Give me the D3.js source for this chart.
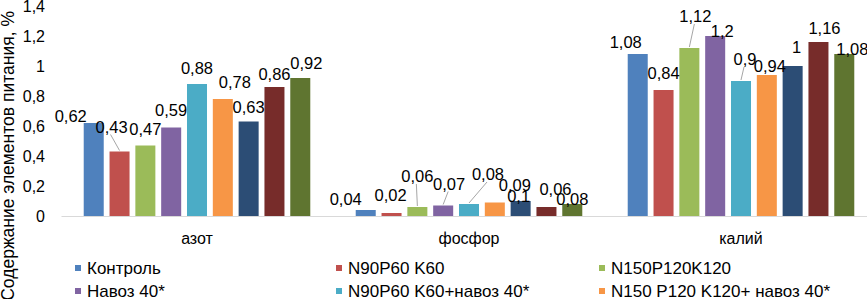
<!DOCTYPE html>
<html><head><meta charset="utf-8">
<script src="https://cdn.jsdelivr.net/npm/d3@7"></script>
<style>body{margin:0;background:#fff}svg{display:block}text{font-family:"Liberation Sans",Arial,sans-serif;fill:#000}</style>
</head><body><svg id="c" width="867" height="299"></svg>
<script>
const categories = ["азот", "фосфор", "калий"];
const seriesNames = ["Контроль", "N90P60 K60", "N150P120K120", "Навоз 40*", "N90P60 K60+навоз 40*", "N150 P120 K120+ навоз 40*", "s7", "s8", "s9"];
const seriesColors = ["#4F81BD", "#C0504D", "#9BBB59", "#8064A2", "#4BACC6", "#F79646", "#2C4D75", "#772C2A", "#5F7530"];
const azot   = [0.62, 0.43, 0.47, 0.59, 0.88, 0.78, 0.63, 0.86, 0.92];
const fosfor = [0.04, 0.02, 0.06, 0.07, 0.08, 0.09, 0.1, 0.06, 0.08];
const kaliy  = [1.08, 0.84, 1.12, 1.2, 0.9, 0.94, 1, 1.16, 1.08];
const yTicks = [0, 0.2, 0.4, 0.6, 0.8, 1, 1.2, 1.4];
const yTitle = "Содержание элементов питания, %";
// manual label nudges (dx, dy from bar top centre), leader flag
const labelNudge = [
  [[-23,-7,0],[-8,-25,1],[0,-17,0],[0,-18,0],[0,-16,0],[12,-17,0],[0,-15,0],[0,-13,0],[6,-15,0]],
  [[-20,-11,0],[-1,-18,0],[0,-31,1],[6,-22,1],[19,-30,1],[20,-18,0],[-2,-5,0],[9,-18,0],[0,-5,0]],
  [[-12,-12,0],[0,-17,0],[6,-32,1],[7,-5,0],[4,-22,1],[3,-9,0],[4,-19,0],[6,-14,0],[8,-5,0]]
];
const values = [azot, fosfor, kaliy];
const fmt = v => String(v).replace(".", ",");

const svg = d3.select("#c");
const x0 = d3.scaleBand().domain(categories).range([61, 877]).padding(0);
const x1 = d3.scaleBand().domain(d3.range(9)).range([0, x0.bandwidth()]).paddingInner(0.225).paddingOuter(0.88);
const y = d3.scaleLinear().domain([0, 1.4]).range([216, 6]);

// y axis labels
const yAxis = d3.axisLeft(y).tickValues(yTicks).tickSize(0).tickPadding(0).tickFormat(fmt);
const ga = svg.append("g").attr("transform", "translate(45,0)").call(yAxis);
ga.select(".domain").remove();
ga.selectAll("text").style("font-size", "16px").style("font-family", '"Liberation Sans",Arial,sans-serif').attr("fill", "#000");

// bars
categories.forEach((c, ci) => {
  const g = svg.append("g").attr("transform", `translate(${x0(c)},0)`);
  g.selectAll("rect").data(values[ci]).join("rect")
    .attr("x", (d, i) => x1(i)).attr("width", x1.bandwidth())
    .attr("y", d => y(d)).attr("height", d => y(0) - y(d))
    .attr("fill", (d, i) => seriesColors[i]);
});

// x axis line
const xa = d3.axisBottom(x0).tickSize(0).tickPadding(0);
const gx = svg.append("g").attr("transform", `translate(0,${y(0)})`).call(xa);
gx.select(".domain").attr("stroke", "#D9D9D9").attr("stroke-width", 1.2);
gx.selectAll("text").attr("dy", 0).attr("y", 28).style("font-size", "16px").style("font-family", '"Liberation Sans",Arial,sans-serif').attr("fill", "#000");

// data labels
categories.forEach((c, ci) => {
  values[ci].forEach((v, i) => {
    const bx = x0(c) + x1(i) + x1.bandwidth() / 2;
    const by = y(v);
    const [dx, dy, leader] = labelNudge[ci][i];
    const lx = bx + dx, ly = by + dy;
    if (leader) {
      svg.append("line").attr("x1", lx - 1).attr("y1", ly + 8).attr("x2", bx).attr("y2", by - 1)
        .attr("stroke", "#A6A6A6").attr("stroke-width", 1);
    }
    svg.append("text").attr("x", lx).attr("y", ly).attr("text-anchor", "middle")
      .attr("dominant-baseline", "central").style("font-size", "16.5px").text(fmt(v));
  });
});

// y title
svg.append("text").attr("transform", "translate(13.5,11) rotate(-90)").attr("text-anchor", "end")
  .style("font-size", "17.5px").text(yTitle);

// legend (first six entries visible)
const legCols = [75, 336, 599], legRows = [268, 291];
seriesNames.slice(0, 6).forEach((n, i) => {
  const lx = legCols[i % 3], ly = legRows[Math.floor(i / 3)];
  svg.append("rect").attr("x", lx).attr("y", ly - 3).attr("width", 6).attr("height", 6).attr("fill", seriesColors[i]);
  svg.append("text").attr("x", lx + 12).attr("y", ly).attr("dominant-baseline", "central")
    .style("font-size", "17px").text(n);
});
</script></body></html>
